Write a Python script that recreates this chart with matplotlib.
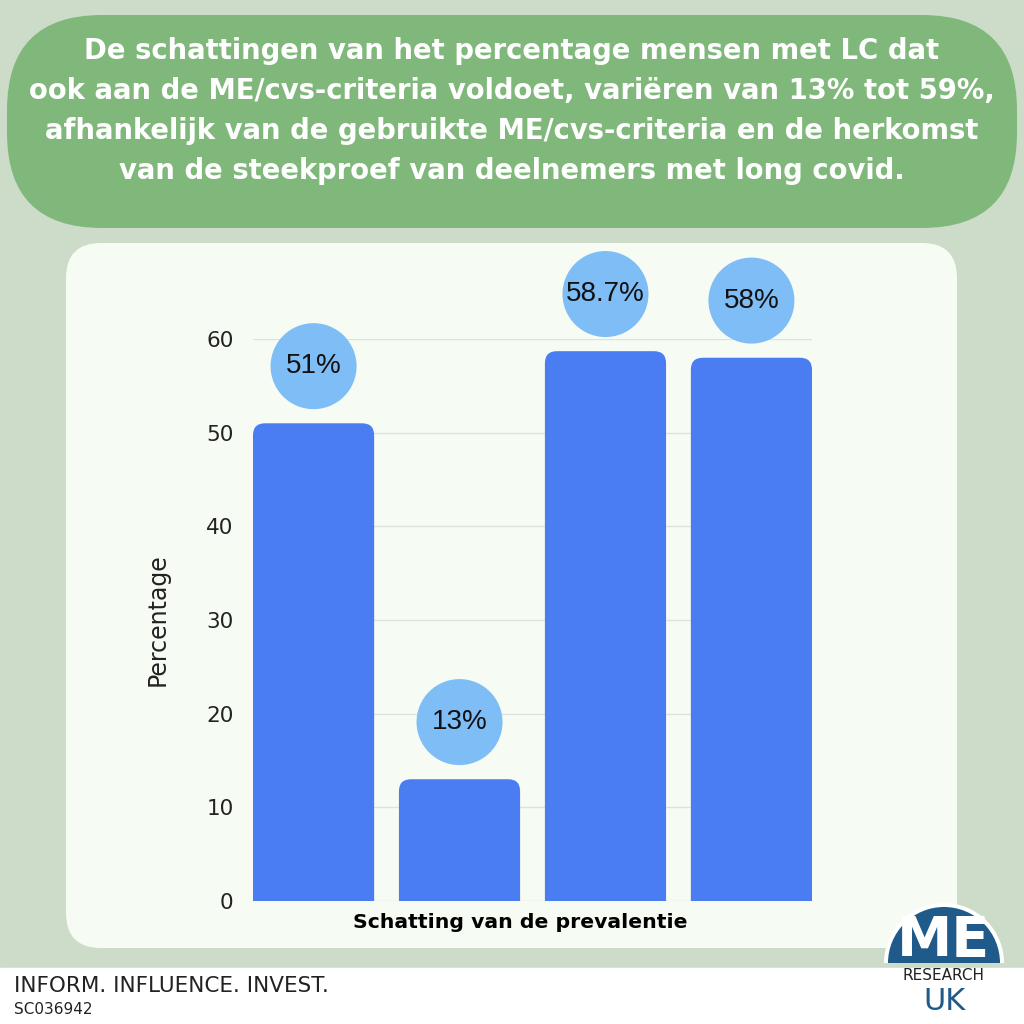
import numpy as np
import matplotlib.pyplot as plt
from matplotlib.patches import FancyBboxPatch, Rectangle, Wedge

# data
categories = ['A', 'B', 'C', 'D']
values = [51, 13, 58.7, 58]
labels = ['51%', '13%', '58.7%', '58%']
yticks = [0, 10, 20, 30, 40, 50, 60]

title = ("De schattingen van het percentage mensen met LC dat\n"
         "ook aan de ME/cvs-criteria voldoet, variëren van 13% tot 59%,\n"
         "afhankelijk van de gebruikte ME/cvs-criteria en de herkomst\n"
         "van de steekproef van deelnemers met long covid.")

W = H = 1024
fig = plt.figure(figsize=(10.24, 10.24), dpi=100)
fig.patch.set_facecolor('#cddcc8')

# background decorations in pixel coords
bg = fig.add_axes([0, 0, 1, 1], zorder=0)
bg.set_xlim(0, W)
bg.set_ylim(H, 0)
bg.axis('off')

bg.add_patch(Rectangle((0, 968), W, 56, color='white'))
bg.add_patch(FancyBboxPatch((7, 15), 1010, 213,
                            boxstyle='round,pad=0,rounding_size=95',
                            fc='#80b87c', ec='none'))
bg.add_patch(FancyBboxPatch((66, 243), 891, 705,
                            boxstyle='round,pad=0,rounding_size=35',
                            fc='#f6fbf3', ec='none'))
bg.text(512, 111, title, ha='center', va='center', color='white',
        fontsize=19.8, fontweight='bold', family='DejaVu Sans',
        linespacing=1.56)

bg.text(14, 986, 'INFORM. INFLUENCE. INVEST.', ha='left', va='center',
        fontsize=15.5, color='#222222', family='DejaVu Sans')
bg.text(14, 1009, 'SC036942', ha='left', va='center',
        fontsize=11, color='#222222', family='DejaVu Sans')

# logo
bg.add_patch(Wedge((944, 963), 60, 180, 360, fc='white', ec='none'))
bg.add_patch(Wedge((944, 963), 56, 180, 360, fc='#1f5a8a', ec='none'))
bg.text(944, 941, 'ME', ha='center', va='center', color='white',
        fontsize=40, fontweight='bold', family='DejaVu Sans')
bg.text(944, 976, 'RESEARCH', ha='center', va='center', color='#222222',
        fontsize=11, family='DejaVu Sans')
bg.text(944, 1002, 'UK', ha='center', va='center', color='#1f5a8a',
        fontsize=22, family='DejaVu Sans')

# chart
x = np.arange(len(values))
bw = 0.83
ax_left, ax_right = 253 / W, 812 / W
ax_bottom = (H - 901) / H
ax_top = (H - 339) / H
ax = fig.add_axes([ax_left, ax_bottom, ax_right - ax_left, ax_top - ax_bottom], zorder=1)
ax.set_facecolor('none')
ax.set_xlim(-bw / 2, len(values) - 1 + bw / 2)
ax.set_ylim(0, 60)

bars = ax.bar(x, values, width=bw, color='#4a7df2')
# rounded tops
px_x = (812 - 253) / (len(values) - 1 + bw)
px_y = (901 - 339) / 60
for b in bars:
    b.set_visible(False)
    r = 12
    ax.add_patch(FancyBboxPatch((b.get_x(), -5), b.get_width(), b.get_height() + 5,
                                boxstyle='round,pad=0,rounding_size=%f' % (r / px_x),
                                mutation_aspect=px_x / px_y,
                                fc='#4a7df2', ec='none', zorder=2))

ax.scatter(x, np.array(values) + 6.1, s=(86 * 0.72) ** 2, color='#7fbdf6',
           zorder=3, clip_on=False, edgecolors='none')
for xi, v, lab in zip(x, values, labels):
    ax.text(xi, v + 6.1, lab, ha='center', va='center', fontsize=20,
            family='Liberation Sans', color='#111111', zorder=4, clip_on=False)

ax.set_yticks(yticks)
ax.set_xticks([])
ax.grid(axis='y', color='#dde3dc', linewidth=1)
ax.set_axisbelow(True)
for s in ax.spines.values():
    s.set_visible(False)
ax.tick_params(axis='y', length=0, pad=14, labelsize=15.5, labelcolor='#222222')
ax.set_ylabel('Percentage', fontsize=17, color='#222222', labelpad=26)
ax.set_xlabel('Schatting van de prevalentie', fontsize=14.7, fontweight='bold',
              color='black')
ax.xaxis.set_label_coords(0.478, -0.022)

fig.savefig('out.png', dpi=100, facecolor=fig.get_facecolor())
